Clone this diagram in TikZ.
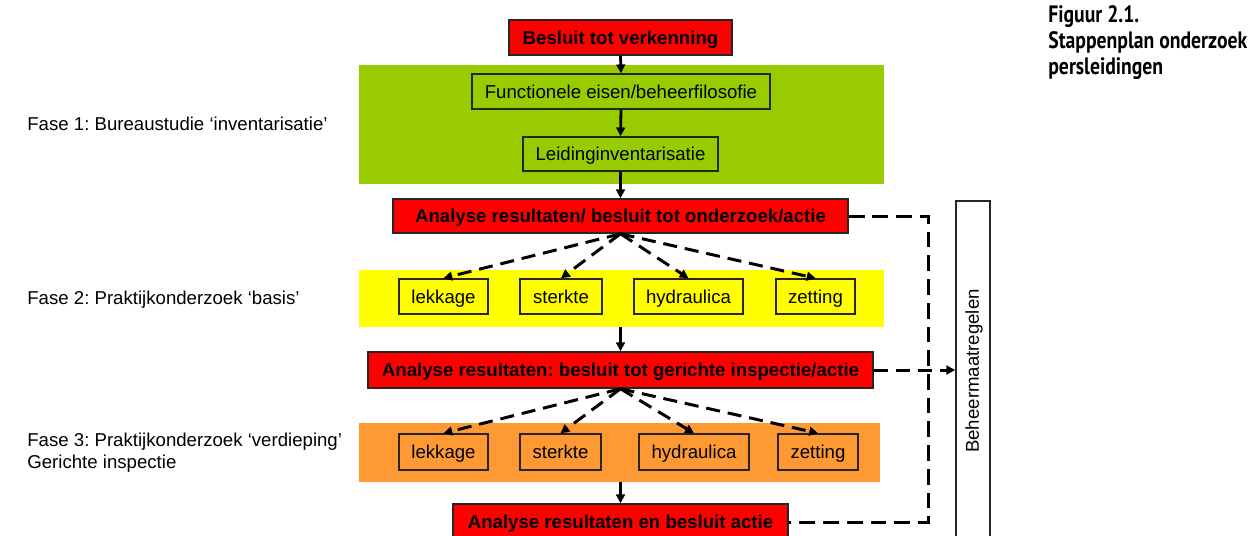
\documentclass[tikz,border=0pt]{standalone}
\usepackage{fontspec}
\setmainfont{Liberation Sans}
\newfontfamily\capfont[FakeStretch=0.83]{PT Sans}
\usetikzlibrary{arrows.meta}
\frenchspacing
\newcommand{\fs}{\fontsize{10.6}{12.2}\selectfont}
\definecolor{bandgreen}{HTML}{99CC00}
\definecolor{bandyellow}{HTML}{FFFF00}
\definecolor{bandorange}{HTML}{FF9933}
\definecolor{boxred}{HTML}{FF0000}
\definecolor{edge}{HTML}{262626}
\begin{document}
\begin{tikzpicture}[x=0.02cm,y=-0.02cm,
  band/.style={draw=none,inner sep=0pt,anchor=center},
  box/.style={draw=edge,line width=0.9pt,inner sep=0pt,anchor=center,font=\fs,minimum height=0.70cm,text height=8.9pt,text depth=1pt},
  redbox/.style={box,fill=boxred,font=\fs\bfseries},
  arr/.style={line width=1.6pt,-{Triangle[length=5pt,width=5pt]}},
  darr/.style={line width=1.7pt,dash pattern=on 8pt off 4.5pt,-{Triangle[length=5pt,width=5pt]}},
  dline/.style={line width=1.7pt,dash pattern=on 9pt off 4.5pt},
  lbl/.style={font=\fs,inner sep=0pt,align=left}]
\useasboundingbox (0,0) rectangle (1250,535);

% bands
\node[band,fill=bandgreen,minimum width=10.50cm,minimum height=2.38cm] (green) at (621.5,124.5) {};
\node[band,fill=bandyellow,minimum width=10.50cm,minimum height=1.14cm] (yellow) at (621.5,298.5) {};
\node[band,fill=bandorange,minimum width=10.42cm,minimum height=1.18cm] (orange) at (619.5,452.5) {};

% main boxes
\node[redbox,minimum width=4.46cm] (A) at (620.5,37.5) {Besluit tot verkenning};
\node[box,minimum width=5.96cm] (B) at (621,91.5) {Functionele eisen/beheerfilosofie};
\node[box,minimum width=3.90cm,minimum height=0.68cm] (L) at (620.5,154) {Leidinginventarisatie};
\node[redbox,minimum width=9.10cm,minimum height=0.68cm] (C) at (620.5,216) {Analyse resultaten/ besluit tot onderzoek/actie};

\node[box,minimum width=1.78cm] (lek1) at (443.5,296.5) {lekkage};
\node[box,minimum width=1.64cm] (ste1) at (561,296.5) {sterkte};
\node[box,minimum width=2.18cm] (hyd1) at (688.5,296.5) {hydraulica};
\node[box,minimum width=1.58cm] (zet1) at (815.5,296.5) {zetting};

\node[redbox,minimum width=10.10cm,minimum height=0.72cm] (D) at (620.5,370) {Analyse resultaten: besluit tot gerichte inspectie/actie};

\node[box,minimum width=1.78cm,minimum height=0.72cm] (lek2) at (443.5,452) {lekkage};
\node[box,minimum width=1.62cm,minimum height=0.72cm] (ste2) at (560.5,452) {sterkte};
\node[box,minimum width=2.20cm,minimum height=0.72cm] (hyd2) at (694,452) {hydraulica};
\node[box,minimum width=1.60cm,minimum height=0.72cm] (zet2) at (818,452) {zetting};

\node[redbox,minimum width=6.70cm,minimum height=0.72cm] (E) at (620.5,522) {Analyse resultaten en besluit actie};

% Beheermaatregelen
\node[box,fill=white,minimum width=0.68cm,minimum height=7.18cm] (beh) at (973,380.5) {};
\node[font=\fs,rotate=90,inner sep=0pt] (behtxt) at (974,371) {Beheermaatregelen};

% labels left
\node[lbl,anchor=west] (f1) at (27,124) {Fase 1: Bureaustudie ‘inventarisatie’};
\node[lbl,anchor=west] (f2) at (27,300) {Fase 2: Praktijkonderzoek ‘basis’};
\node[lbl,anchor=west] (f3) at (27,452.5) {Fase 3: Praktijkonderzoek ‘verdieping’\\Gerichte inspectie};

% caption
\node[anchor=north west,inner sep=0pt,align=left,font={\capfont\bfseries\fontsize{13.5}{14.8}\selectfont}] (cap) at (1048,5) {Figuur 2.1.\\Stappenplan onderzoek\\persleidingen};

% solid arrows
\draw[arr] (A.south) -- (B.north);
\draw[arr] (B.south) -- (L.north);
\draw[arr] (L.south) -- (C.north);
\draw[arr] (D.north |- yellow.south) -- (D.north);
\draw[arr] (E.north |- orange.south) -- (E.north);

% dashed fans
\foreach \t in {lek1,ste1,hyd1,zet1} \draw[darr] (C.south) -- (\t.north);
\foreach \t in {lek2,ste2,hyd2,zet2} \draw[darr] (D.south) -- (\t.north);

% right connectors
\coordinate (r1) at (928,216);
\coordinate (r2) at (928,522);
\draw[dline] (C.east) -- (r1) -- (r2) -- (E.east);
\draw[darr] (D.east) -- (D.east -| beh.west);
\end{tikzpicture}
\end{document}
